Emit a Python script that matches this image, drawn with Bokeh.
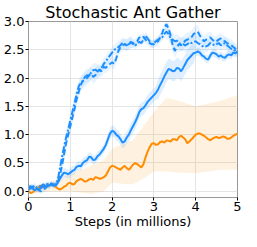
import numpy as np
from bokeh.plotting import figure
from bokeh.models import Range1d, FixedTicker, NumeralTickFormatter
from bokeh.embed import file_html
from bokeh.resources import INLINE

steps = [round(i * 0.05, 2) for i in range(101)]

solid_blue = [0.07, 0.09, 0.05, 0.02, 0.04, 0.03, 0.06, 0.09, 0.08, 0.11,
              0.10, 0.13, 0.12, 0.10, 0.15, 0.22, 0.28, 0.33, 0.32, 0.30,
              0.33, 0.36, 0.38, 0.43, 0.45, 0.44, 0.50, 0.53, 0.55, 0.61,
              0.60, 0.55, 0.56, 0.62, 0.65, 0.70, 0.75, 0.82, 0.92, 1.02,
              1.07, 1.05, 1.00, 0.97, 0.92, 0.86, 0.88, 0.95, 1.00, 1.08,
              1.15, 1.22, 1.30, 1.40, 1.45, 1.47, 1.52, 1.58, 1.62, 1.66,
              1.70, 1.74, 1.80, 1.88, 1.95, 2.03, 2.10, 2.16, 2.15, 2.12,
              2.13, 2.18, 2.17, 2.12, 2.18, 2.25, 2.32, 2.36, 2.40, 2.44,
              2.45, 2.47, 2.45, 2.40, 2.38, 2.34, 2.33, 2.40, 2.45, 2.44,
              2.42, 2.38, 2.40, 2.37, 2.36, 2.40, 2.42, 2.40, 2.45, 2.44, 2.47]
solid_hw = [0.05] * 16 + [0.08] * 22 + [0.10] * 10 + [0.12] * 14 + [0.18] * 18 + [0.07] * 21

dashed_blue = [0.08, 0.06, 0.07, 0.04, 0.05, 0.02, 0.00, 0.03, 0.05, 0.09,
               0.08, 0.11, 0.10, 0.12, 0.15, 0.28, 0.45, 0.65, 0.85, 1.00,
               1.15, 1.30, 1.45, 1.62, 1.75, 1.88, 1.95, 1.97, 2.00, 2.05,
               2.08, 2.02, 2.05, 2.12, 2.15, 2.12, 2.20, 2.18, 2.22, 2.25,
               2.28, 2.25, 2.35, 2.48, 2.55, 2.58, 2.60, 2.58, 2.62, 2.64,
               2.60, 2.63, 2.65, 2.72, 2.70, 2.73, 2.68, 2.64, 2.62, 2.60,
               2.60, 2.63, 2.65, 2.72, 2.80, 2.90, 2.95, 2.88, 2.75, 2.58,
               2.48, 2.55, 2.60, 2.58, 2.62, 2.66, 2.68, 2.70, 2.72, 2.78,
               2.80, 2.82, 2.75, 2.70, 2.65, 2.68, 2.70, 2.72, 2.68, 2.64,
               2.65, 2.68, 2.70, 2.66, 2.65, 2.62, 2.60, 2.58, 2.55, 2.52, 2.50]
dashdot_blue = [0.03, 0.05, 0.08, 0.10, 0.06, 0.08, 0.09, 0.12, 0.10, 0.13,
                0.12, 0.14, 0.10, 0.13, 0.20, 0.40, 0.60, 0.78, 0.95, 1.10,
                1.25, 1.40, 1.55, 1.72, 1.85, 1.92, 1.95, 2.02, 2.05, 2.04,
                2.10, 2.14, 2.15, 2.12, 2.10, 2.18, 2.25, 2.30, 2.35, 2.40,
                2.45, 2.50, 2.52, 2.55, 2.58, 2.62, 2.60, 2.58, 2.60, 2.63,
                2.62, 2.58, 2.60, 2.64, 2.62, 2.68, 2.75, 2.70, 2.65, 2.60,
                2.62, 2.65, 2.68, 2.70, 2.72, 2.78, 2.82, 2.78, 2.70, 2.68,
                2.65, 2.66, 2.62, 2.60, 2.60, 2.58, 2.60, 2.63, 2.62, 2.64,
                2.65, 2.62, 2.60, 2.57, 2.55, 2.56, 2.58, 2.62, 2.60, 2.58,
                2.60, 2.62, 2.58, 2.60, 2.62, 2.58, 2.55, 2.52, 2.50, 2.48, 2.45]
fast_hw = [0.05] * 16 + [0.12] * 18 + [0.10] * 16 + [0.07] * 16 + [0.12] * 16 + [0.10] * 19

orange = [0.00, -0.03, -0.02, 0.02, 0.05, 0.08, 0.10, 0.07, 0.08, 0.11,
          0.10, 0.13, 0.12, 0.08, 0.05, 0.03, 0.05, 0.08, 0.10, 0.14,
          0.15, 0.12, 0.13, 0.18, 0.20, 0.22, 0.20, 0.17, 0.18, 0.21,
          0.22, 0.20, 0.25, 0.24, 0.22, 0.23, 0.25, 0.28, 0.35, 0.42,
          0.45, 0.44, 0.42, 0.40, 0.38, 0.42, 0.45, 0.41, 0.38, 0.42,
          0.47, 0.50, 0.48, 0.45, 0.42, 0.48, 0.60, 0.70, 0.78, 0.84,
          0.85, 0.82, 0.83, 0.87, 0.88, 0.86, 0.90, 0.89, 0.88, 0.92,
          0.92, 0.90, 0.96, 0.98, 0.95, 0.92, 0.85, 0.88, 0.92, 0.96,
          1.00, 1.02, 1.02, 1.00, 0.98, 0.95, 0.92, 0.90, 0.93, 0.95,
          0.96, 0.94, 0.95, 0.97, 0.96, 0.93, 0.93, 0.95, 0.98, 1.00, 1.02]
orange_band_x = [0, 0.5, 1.0, 1.5, 1.8, 2.0, 2.3, 2.5, 2.8, 3.0, 3.3, 3.6, 4.0, 4.3, 4.6, 5.0]
orange_upper = [0.08, 0.15, 0.30, 0.45, 0.55, 0.75, 0.85, 0.90, 1.20, 1.40, 1.65, 1.60, 1.50, 1.55, 1.60, 1.70]
orange_lower = [-0.05, 0.00, 0.00, -0.05, 0.00, 0.15, 0.13, 0.12, 0.25, 0.35, 0.35, 0.33, 0.32, 0.35, 0.38, 0.38]

y_ticks = [0.0, 0.5, 1.0, 1.5, 2.0, 2.5, 3.0]
x_ticks = [0, 1, 2, 3, 4, 5]

BLUE = "#1e8fff"
ORANGE = "#ff8c00"
FONT = "DejaVu Sans"

p = figure(width=241, height=231, output_backend="svg", toolbar_location=None,
           x_range=Range1d(0, 5), y_range=Range1d(-0.11, 3.0),
           min_border_left=0, min_border_right=4, min_border_top=0, min_border_bottom=0,
           title="Stochastic Ant Gather")
p.title.text_font = FONT
p.title.text_font_size = "16px"
p.title.text_font_style = "normal"
p.title.text_color = "black"
p.title.align = "center"
p.title.standoff = 0
p.title.offset = 0

s = np.array(steps)
sb = np.array(solid_blue); sh = np.array(solid_hw)
db = np.array(dashed_blue); ddb = np.array(dashdot_blue); fh = np.array(fast_hw)

p.varea(x=orange_band_x, y1=orange_lower, y2=orange_upper, fill_color=ORANGE, fill_alpha=0.12)
p.varea(x=s, y1=sb - sh, y2=sb + sh, fill_color=BLUE, fill_alpha=0.14)
p.varea(x=s, y1=db - fh, y2=db + fh, fill_color=BLUE, fill_alpha=0.1)
p.varea(x=s, y1=ddb - fh, y2=ddb + fh, fill_color=BLUE, fill_alpha=0.1)

p.line(steps, orange, line_color=ORANGE, line_width=2)
p.line(steps, solid_blue, line_color=BLUE, line_width=2)
p.line(steps, dashed_blue, line_color=BLUE, line_width=2, line_dash="6 3")
p.line(steps, dashdot_blue, line_color=BLUE, line_width=2, line_dash="7 2 2 2")

p.xaxis.ticker = FixedTicker(ticks=x_ticks)
p.yaxis.ticker = FixedTicker(ticks=y_ticks)
p.yaxis.formatter = NumeralTickFormatter(format="0.0")
p.xaxis.axis_label = "Steps (in millions)"
for ax in (p.xaxis, p.yaxis):
    ax.axis_label_text_font = FONT
    ax.axis_label_text_font_size = "13px"
    ax.axis_label_text_font_style = "normal"
    ax.axis_label_text_color = "black"
    ax.axis_label_standoff = 0
    ax.major_label_text_font = FONT
    ax.major_label_text_font_size = "13px"
    ax.major_label_text_color = "black"
    ax.major_label_standoff = 1
    ax.axis_line_color = "#999999"
    ax.major_tick_line_color = "black"
    ax.major_tick_out = 3
    ax.major_tick_in = 0
    ax.minor_tick_line_color = None

p.grid.grid_line_color = "#e5e5e5"
p.outline_line_color = "#999999"
p.background_fill_color = "white"
p.border_fill_color = "white"

open("out.html", "w").write(file_html(p, INLINE))
